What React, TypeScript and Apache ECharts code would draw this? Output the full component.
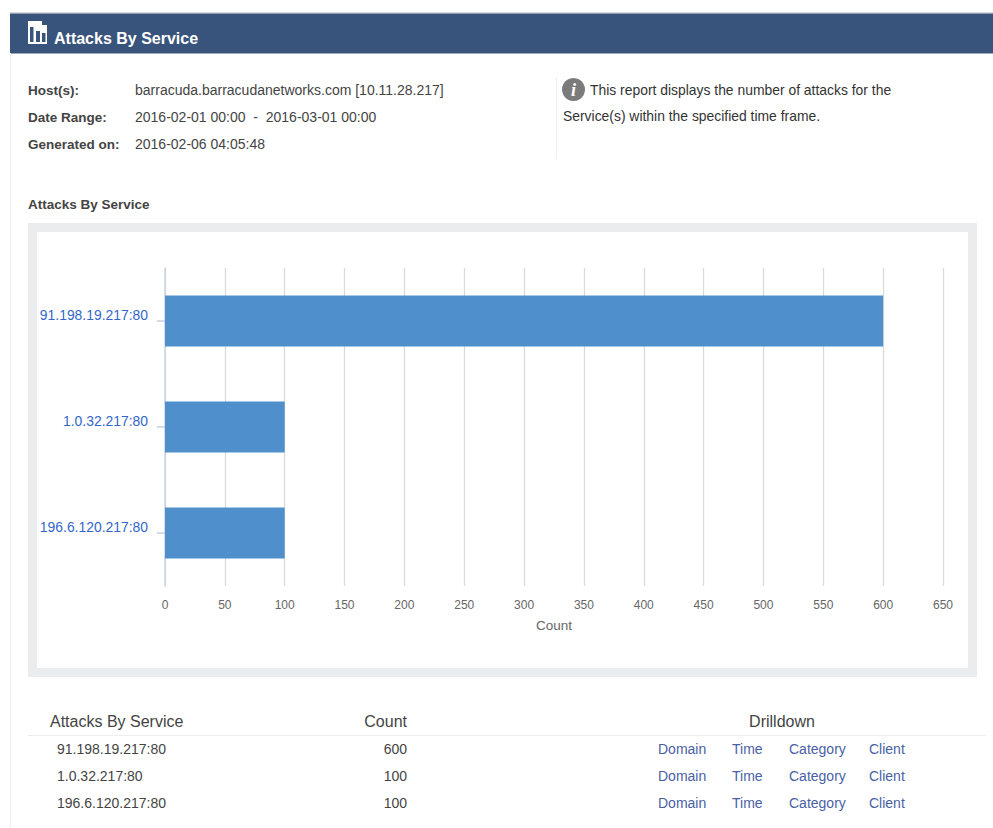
import React, { useEffect, useRef } from "react";
import * as echarts from "echarts";

const services = ["91.198.19.217:80", "1.0.32.217:80", "196.6.120.217:80"];
const counts = [600, 100, 100];
const drilldowns = ["Domain", "Time", "Category", "Client"];
const drillX = [658, 732, 789, 869];
const metaRows = [
  ["Host(s):", "barracuda.barracudanetworks.com [10.11.28.217]"],
  ["Date Range:", "2016-02-01 00:00  -  2016-03-01 00:00"],
  ["Generated on:", "2016-02-06 04:05:48"],
];
const noteLines = ["This report displays the number of attacks for the", "Service(s) within the specified time frame."];
const FONT = '"Liberation Sans", Arial, sans-serif';

const txt = (text: string, x: number, y: number, size: number, fill: string, extra: any = {}) => ({
  type: "text",
  x,
  y,
  z: 10,
  style: { text, fill, font: `${extra.bold ? "bold " : ""}${size}px ${FONT}`, textAlign: extra.align || "left", textVerticalAlign: "middle", textBaseline: "middle" },
});
const box = (x: number, y: number, width: number, height: number, fill: string, z = 1) => ({
  type: "rect",
  z,
  shape: { x, y, width, height },
  style: { fill },
});

export default function App() {
  const ref = useRef<HTMLDivElement>(null);
  useEffect(() => {
    document.body.style.margin = "0";
    const chart = echarts.init(ref.current!, undefined, { renderer: "svg" });
    const graphics: any[] = [
      box(10, 12, 983, 1.5, "#d9d9d9"),
      box(10, 13.5, 983, 40, "#39547c"),
      box(10, 53, 1, 775, "#f1f1f1"),
      // title icon
      {
        type: "polygon",
        z: 5,
        shape: { points: [[28, 21], [42, 21], [42, 25], [47, 25], [47, 44], [28, 44]] },
        style: { fill: "#ffffff" },
      },
      box(30, 27, 3.5, 15, "#39547c", 6),
      box(36, 31, 4, 11, "#39547c", 6),
      box(42, 33, 3.5, 9, "#39547c", 6),
      txt("Attacks By Service", 54, 38.5, 16, "#ffffff", { bold: true }),
      ...metaRows.flatMap((r, i) => [
        txt(r[0], 28, 90 + i * 27, 13.5, "#444444", { bold: true }),
        txt(r[1], 135, 90 + i * 27, 14, "#444444"),
      ]),
      box(556, 77, 1, 82, "#eeeeee"),
      { type: "circle", z: 5, shape: { cx: 573.5, cy: 89.5, r: 11.5 }, style: { fill: "#7b7b7b" } },
      { type: "text", z: 6, x: 573.5, y: 90, style: { text: "i", fill: "#ffffff", font: `italic bold 18px "Liberation Serif", serif`, textAlign: "center", textVerticalAlign: "middle", textBaseline: "middle" } },
      txt(noteLines[0], 590, 90, 13.9, "#333333"),
      txt(noteLines[1], 563, 116, 13.9, "#333333"),
      txt("Attacks By Service", 28, 204.5, 13.5, "#444444", { bold: true }),
      box(28, 223, 949, 454, "#ebecee", 0),
      box(37, 232, 931, 436, "#ffffff", 0),
      txt("Attacks By Service", 50, 721, 16, "#444444"),
      txt("Count", 407, 721, 16, "#444444", { align: "right" }),
      txt("Drilldown", 782, 721, 16, "#444444", { align: "center" }),
      box(28, 735, 958, 1, "#eeeeee"),
      ...services.flatMap((s, i) => [
        txt(s, 57, 749 + i * 27, 14, "#444444"),
        txt(String(counts[i]), 407, 749 + i * 27, 14, "#444444", { align: "right" }),
        ...drilldowns.map((d, j) => txt(d, drillX[j], 749 + i * 27, 14, "#4a5fa5")),
      ]),
    ];
    chart.setOption({
      animation: false,
      graphic: { elements: graphics },
      grid: { left: 165, top: 268, width: 778, height: 318, containLabel: false },
      xAxis: {
        type: "value",
        min: 0,
        max: 650,
        interval: 50,
        name: "Count",
        nameLocation: "middle",
        nameGap: 32,
        nameTextStyle: { color: "#666666", fontSize: 13.5, fontFamily: FONT },
        axisLine: { show: false },
        axisTick: { show: false },
        axisLabel: { color: "#666666", fontSize: 12, fontFamily: FONT, margin: 13 },
        splitLine: { show: true, lineStyle: { color: "#dadada", width: 1.3 } },
      },
      yAxis: {
        type: "category",
        inverse: true,
        data: services,
        axisLine: { show: true, lineStyle: { color: "#c9d4e3", width: 1.5 } },
        axisTick: { show: true, length: 8, alignWithLabel: true, lineStyle: { color: "#c4d0e2", width: 1.5 } },
        axisLabel: { color: "#3366cc", fontSize: 13.9, lineHeight: 12, fontFamily: FONT, margin: 17, verticalAlign: "bottom" },
      },
      series: [
        {
          type: "bar",
          data: counts,
          barWidth: 51,
          itemStyle: { color: "#4e8fcc" },
        },
      ],
    });
    return () => chart.dispose();
  }, []);
  return <div ref={ref} style={{ position: "absolute", left: 0, top: 0, width: 993, height: 828 }} />;
}
